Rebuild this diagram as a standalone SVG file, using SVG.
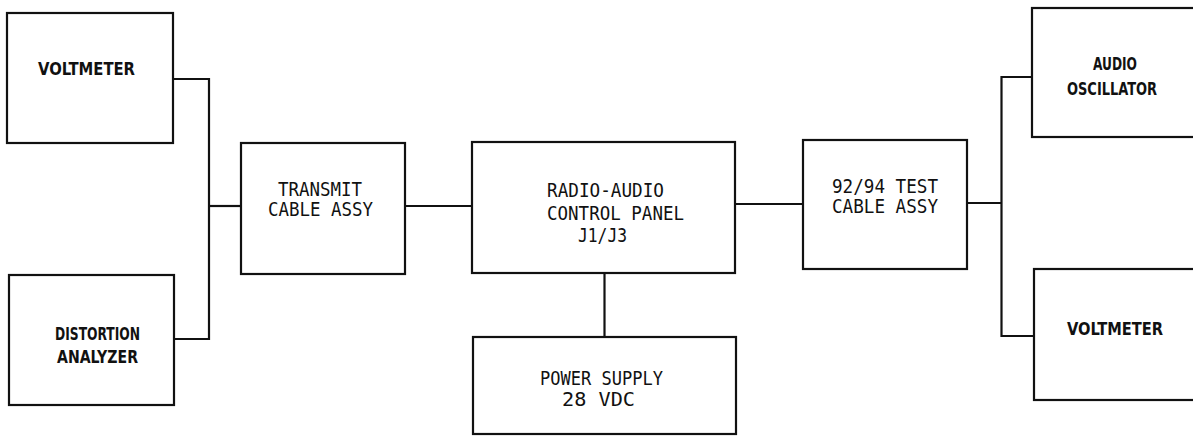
<svg xmlns="http://www.w3.org/2000/svg" width="1193" height="436" viewBox="0 0 1193 436">
<style>
.box{fill:#fff;stroke:#111;stroke-width:2.2}
.wire{fill:none;stroke:#111;stroke-width:2.2}
.t{font-family:"DejaVu Sans Mono","Liberation Mono",monospace;font-size:19px;fill:#111}
.b{font-family:"DejaVu Sans Condensed","DejaVu Sans","Liberation Sans",sans-serif;font-size:18.5px;font-weight:bold;fill:#111}
</style>
<rect width="1193" height="436" fill="#fff"/>
<g id="connectors">
<path class="wire" d="M173,79 H209 V339 H174"/>
<path class="wire" d="M209,206 H241"/>
<path class="wire" d="M405,206 H472"/>
<path class="wire" d="M735,204 H803"/>
<path class="wire" d="M604.5,273 V337"/>
<path class="wire" d="M967,203 H1001.5"/>
<path class="wire" d="M1032,77 H1001.5 V336 H1034"/>
</g>
<g id="voltmeter-left">
<rect class="box" x="7" y="13" width="166" height="130"/>
<text class="b" x="38" y="75" textLength="97" lengthAdjust="spacingAndGlyphs">VOLTMETER</text>
</g>
<g id="distortion-analyzer">
<rect class="box" x="9" y="275" width="165" height="130"/>
<text class="b" x="55" y="340" textLength="85" lengthAdjust="spacingAndGlyphs">DISTORTION</text>
<text class="b" x="57" y="363" textLength="81" lengthAdjust="spacingAndGlyphs">ANALYZER</text>
</g>
<g id="transmit-cable">
<rect class="box" x="241" y="143" width="164" height="131"/>
<text class="t" x="278" y="196" textLength="84" lengthAdjust="spacingAndGlyphs">TRANSMIT</text>
<text class="t" x="268" y="216" textLength="105" lengthAdjust="spacingAndGlyphs">CABLE ASSY</text>
</g>
<g id="radio-audio-panel">
<rect class="box" x="472" y="142" width="263" height="131"/>
<text class="t" x="547" y="197" textLength="117" lengthAdjust="spacingAndGlyphs">RADIO-AUDIO</text>
<text class="t" x="547" y="220" textLength="137" lengthAdjust="spacingAndGlyphs">CONTROL PANEL</text>
<text class="t" x="578" y="242" textLength="49" lengthAdjust="spacingAndGlyphs">J1/J3</text>
</g>
<g id="power-supply">
<rect class="box" x="473" y="337" width="263" height="97"/>
<text class="t" x="540" y="385" textLength="123" lengthAdjust="spacingAndGlyphs">POWER SUPPLY</text>
<text class="t" x="562" y="406" textLength="73" lengthAdjust="spacingAndGlyphs">28 VDC</text>
</g>
<g id="test-cable">
<rect class="box" x="803" y="140" width="164" height="129"/>
<text class="t" x="832" y="193" textLength="106" lengthAdjust="spacingAndGlyphs">92/94 TEST</text>
<text class="t" x="832" y="213" textLength="106" lengthAdjust="spacingAndGlyphs">CABLE ASSY</text>
</g>
<g id="audio-oscillator">
<rect class="box" x="1032" y="8" width="170" height="129"/>
<text class="b" x="1093" y="70" textLength="44" lengthAdjust="spacingAndGlyphs">AUDIO</text>
<text class="b" x="1067" y="95" textLength="90" lengthAdjust="spacingAndGlyphs">OSCILLATOR</text>
</g>
<g id="voltmeter-right">
<rect class="box" x="1034" y="269" width="170" height="131"/>
<text class="b" x="1067" y="335" textLength="96" lengthAdjust="spacingAndGlyphs">VOLTMETER</text>
</g>
</svg>
